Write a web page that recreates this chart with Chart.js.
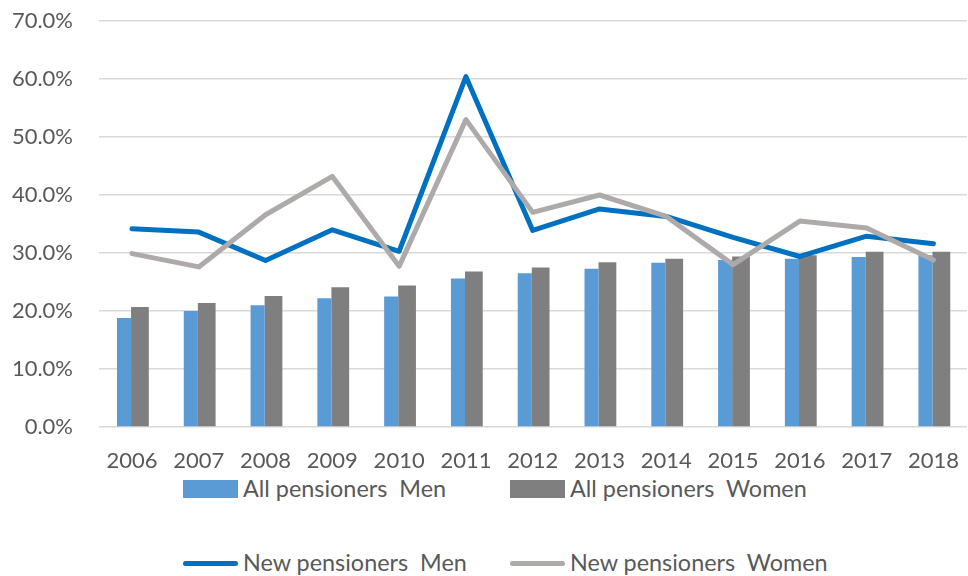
<!DOCTYPE html>
<html>
<head>
<meta charset="utf-8">
<script src="https://cdn.jsdelivr.net/npm/chart.js@4/dist/chart.umd.min.js"></script>
<style>
  html, body { margin:0; padding:0; background:#fff; overflow:hidden; width:968px; height:576px; }
  #wrap { position:absolute; left:0; top:0; width:980px; height:474px; }
  .lg { position:absolute; font-family: Lato, sans-serif; font-size:23.4px; color:#595959; white-space:pre; line-height:1; }
  .sw { position:absolute; }
</style>
</head>
<body>
<div id="wrap"><canvas id="c" width="980" height="474"></canvas></div>
<div id="legend"></div>
<script>
const years = ['2006','2007','2008','2009','2010','2011','2012','2013','2014','2015','2016','2017','2018'];
const allMen   = [18.8, 20.0, 21.0, 22.2, 22.5, 25.6, 26.5, 27.3, 28.3, 28.8, 29.0, 29.3, 29.6];
const allWomen = [20.7, 21.4, 22.6, 24.1, 24.4, 26.8, 27.5, 28.4, 29.0, 29.4, 29.6, 30.2, 30.2];
const newMen   = [34.2, 33.6, 28.7, 34.0, 30.3, 60.4, 33.9, 37.6, 36.3, 32.7, 29.4, 32.9, 31.6];
const newWomen = [29.9, 27.6, 36.6, 43.2, 27.7, 53.0, 37.0, 40.0, 36.3, 28.0, 35.5, 34.3, 28.8];
const seriesNames = ['All pensioners  Men', 'All pensioners  Women', 'New pensioners  Men', 'New pensioners  Women'];
const colors = ['#5B9BD5', '#7F7F7F', '#0070C0', '#AEAAAA'];

const FONT = 'Lato, sans-serif';
const FS = 22;

new Chart(document.getElementById('c'), {
  data: {
    labels: years,
    datasets: [
      { type:'bar', label: seriesNames[0], data: allMen, backgroundColor: colors[0],
        categoryPercentage: 0.475, barPercentage: 0.89, order: 2 },
      { type:'bar', label: seriesNames[1], data: allWomen, backgroundColor: colors[1],
        categoryPercentage: 0.475, barPercentage: 1.12, order: 2 },
      { type:'line', label: seriesNames[2], data: newMen, borderColor: colors[2], backgroundColor: colors[2],
        borderWidth: 5, pointRadius: 0, tension: 0, borderCapStyle:'round', borderJoinStyle:'round', order: 1 },
      { type:'line', label: seriesNames[3], data: newWomen, borderColor: colors[3], backgroundColor: colors[3],
        borderWidth: 5, pointRadius: 0, tension: 0, borderCapStyle:'round', borderJoinStyle:'round', order: 0 }
    ]
  },
  options: {
    responsive: false,
    animation: false,
    devicePixelRatio: 1,
    layout: { padding: { top: 21, right: 1, left: 0, bottom: 0 } },
    plugins: { legend: { display: false }, tooltip: { enabled: false } },
    scales: {
      x: {
        grid: { display: false, drawTicks: false },
        border: { display: false },
        ticks: { color: '#595959', font: { family: FONT, size: FS }, padding: 21, maxRotation: 0, autoSkip: false },
        afterFit: s => { s.height = 47; }
      },
      y: {
        min: 0, max: 70,
        grid: { color: '#D9D9D9', lineWidth: 1.5, drawTicks: true, tickLength: 25, tickColor: 'rgba(0,0,0,0)' },
        border: { display: false },
        ticks: { stepSize: 10, color: '#595959', font: { family: FONT, size: FS }, padding: 0.6,
                 callback: v => v.toFixed(1) + '%' },
        afterFit: s => { s.width = 98.6; }
      }
    }
  }
});

// HTML legend laid out as in the reference (2 columns x 2 rows)
const lg = document.getElementById('legend');
const cols = [183, 510];
const rows = [489, 563];
seriesNames.forEach((name, i) => {
  const cx = cols[i % 2], cy = rows[Math.floor(i / 2)];
  const sw = document.createElement('div');
  sw.className = 'sw';
  sw.style.background = colors[i];
  if (i < 2) {
    sw.style.left = cx + 'px'; sw.style.top = (cy - 9) + 'px';
    sw.style.width = '55px'; sw.style.height = '18px';
  } else {
    sw.style.left = cx + 'px'; sw.style.top = (cy - 2.5) + 'px';
    sw.style.width = '55px'; sw.style.height = '5px'; sw.style.borderRadius = '2.5px';
  }
  lg.appendChild(sw);
  const t = document.createElement('div');
  t.className = 'lg';
  t.textContent = name;
  t.style.left = (cx + 60) + 'px';
  t.style.top = (cy - 12) + 'px';
  lg.appendChild(t);
});
</script>
</body>
</html>
